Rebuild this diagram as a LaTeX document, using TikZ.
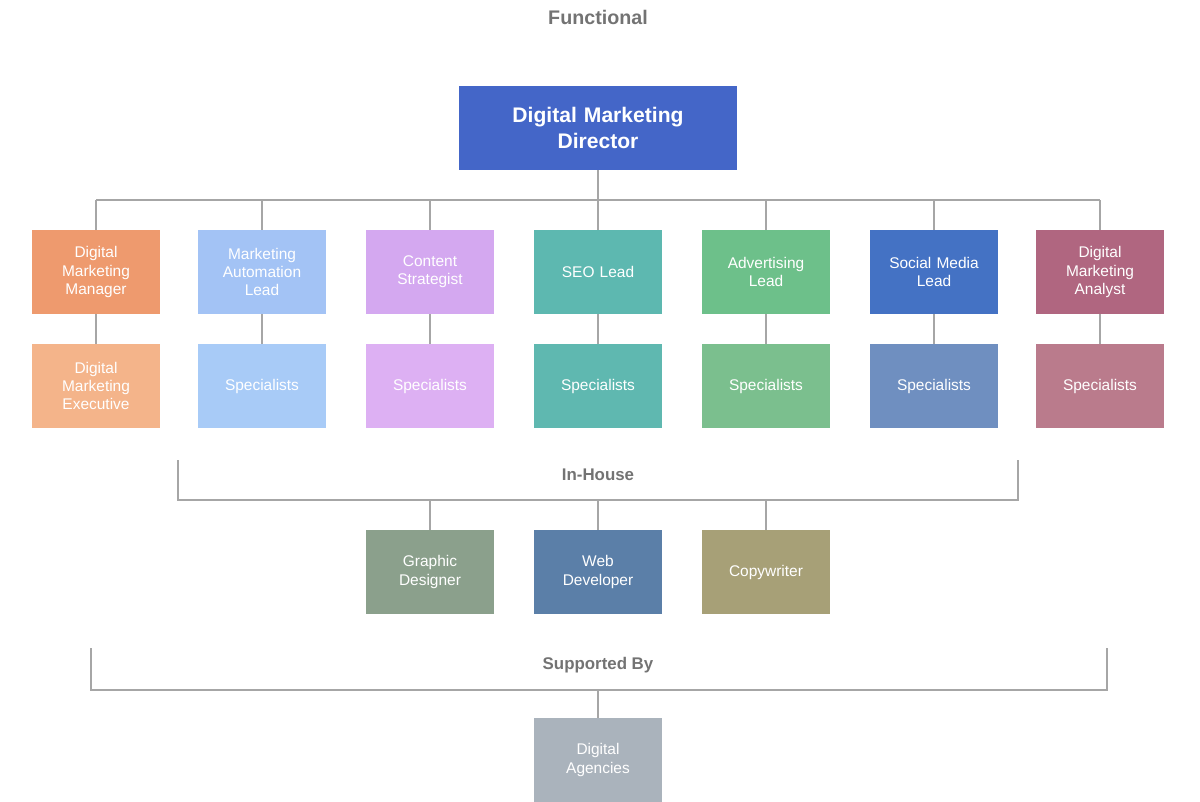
\documentclass[tikz,border=0pt]{standalone}
\usepackage{fontspec}
\setmainfont{Liberation Sans}
\begin{document}
\begin{tikzpicture}[x=0.025cm,y=-0.025cm,
 box/.style={draw=none,minimum width=3.2cm,minimum height=2.1cm,text width=3cm,align=center,text=white,font=\fontsize{11}{13}\selectfont,inner sep=0pt},
 ln/.style={draw=gray!70,line width=1.2pt},
 lab/.style={text=gray!90!black,font=\fontsize{12}{14}\selectfont\bfseries}]
\useasboundingbox (0,0) rectangle (1200,801);
\node[lab,font=\fontsize{14}{16}\selectfont\bfseries] (title) at (598,17) {Functional};
\node[box,fill={rgb,255:red,68;green,102;blue,200},minimum width=6.95cm,text width=6.5cm,font=\fontsize{15}{19}\selectfont\bfseries] (dir) at (598,128) {Digital Marketing\\Director};
\def\rA{272}\def\rB{386}
\definecolor{c1a}{HTML}{EE9A6E}\definecolor{c1b}{HTML}{F4B48A}
\definecolor{c2a}{HTML}{A3C3F5}\definecolor{c2b}{HTML}{A8CBF7}
\definecolor{c3a}{HTML}{D4A8F0}\definecolor{c3b}{HTML}{DDB0F3}
\definecolor{c4a}{HTML}{5DB8B0}\definecolor{c4b}{HTML}{5FB8B0}
\definecolor{c5a}{HTML}{6DC08A}\definecolor{c5b}{HTML}{7BBF8E}
\definecolor{c6a}{HTML}{4472C4}\definecolor{c6b}{HTML}{6F8FC0}
\definecolor{c7a}{HTML}{B06680}\definecolor{c7b}{HTML}{BA7B8C}
\node[box,fill=c1a] (a1) at (96,\rA) {Digital\\Marketing\\Manager};
\node[box,fill=c2a] (a2) at (262,\rA) {Marketing\\Automation\\Lead};
\node[box,fill=c3a] (a3) at (430,\rA) {Content\\Strategist};
\node[box,fill=c4a] (a4) at (598,\rA) {SEO Lead};
\node[box,fill=c5a] (a5) at (766,\rA) {Advertising\\Lead};
\node[box,fill=c6a] (a6) at (934,\rA) {Social Media\\Lead};
\node[box,fill=c7a] (a7) at (1100,\rA) {Digital\\Marketing\\Analyst};
\node[box,fill=c1b] (b1) at (96,\rB) {Digital\\Marketing\\Executive};
\node[box,fill=c2b] (b2) at (262,\rB) {Specialists};
\node[box,fill=c3b] (b3) at (430,\rB) {Specialists};
\node[box,fill=c4b] (b4) at (598,\rB) {Specialists};
\node[box,fill=c5b] (b5) at (766,\rB) {Specialists};
\node[box,fill=c6b] (b6) at (934,\rB) {Specialists};
\node[box,fill=c7b] (b7) at (1100,\rB) {Specialists};
\node[box,fill={rgb,255:red,139;green,160;blue,140}] (g) at (430,572) {Graphic\\Designer};
\node[box,fill={rgb,255:red,91;green,127;blue,168}] (w) at (598,572) {Web\\Developer};
\node[box,fill={rgb,255:red,167;green,160;blue,119}] (c) at (766,572) {Copywriter};
\node[box,fill={rgb,255:red,170;green,179;blue,188}] (ag) at (598,760) {Digital\\Agencies};
\node[lab] (ih) at (598,475) {In-House};
\node[lab] (sb) at (598,665) {Supported By};
\coordinate (bus) at (598,200);
\draw[ln] (dir.south) -- (bus);
\draw[ln] (96,200) -- (1100,200);
\foreach \i in {1,...,7}{\draw[ln] (a\i.north) -- (a\i.north |- bus); \draw[ln] (a\i) -- (b\i);}
\coordinate (ihl) at (178,500); \coordinate (ihr) at (1018,500);
\draw[ln] (178,460) -- (ihl) -- (ihr) -- (1018,460);
\foreach \n in {g,w,c}{\draw[ln] (\n.north) -- (\n.north |- ihl);}
\coordinate (sbl) at (91,690);
\draw[ln] (91,648) -- (sbl) -- (1107,690) -- (1107,648);
\draw[ln] (ag.north) -- (ag.north |- sbl);
\end{tikzpicture}
\end{document}
